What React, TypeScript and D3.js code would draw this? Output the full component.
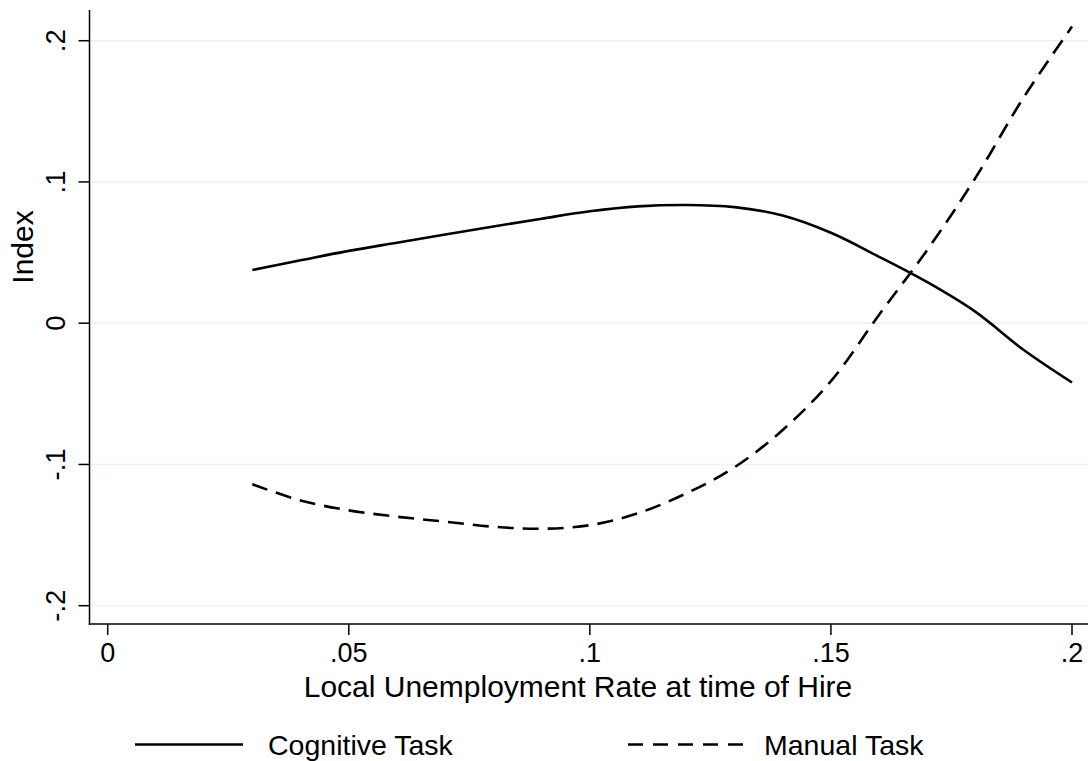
import React, { useRef, useEffect } from "react";
import * as d3 from "d3";

// unemployment rate grid (x) and the two fitted task indices
const rates = [0.03, 0.04, 0.05, 0.06, 0.07, 0.08, 0.09, 0.1, 0.11, 0.12, 0.13, 0.14, 0.15, 0.16, 0.17, 0.18, 0.19, 0.2];
const cognitive = [0.0377, 0.0445, 0.0512, 0.057, 0.0628, 0.0685, 0.074, 0.0792, 0.0827, 0.0837, 0.0822, 0.0762, 0.064, 0.047, 0.029, 0.008, -0.019, -0.042];
const manual = [-0.114, -0.1255, -0.1325, -0.137, -0.1405, -0.1441, -0.1455, -0.143, -0.1345, -0.1205, -0.102, -0.0756, -0.041, 0.006, 0.052, 0.103, 0.16, 0.21];

const xTicks = [0, 0.05, 0.1, 0.15, 0.2];
const xTickLabels = ["0", ".05", ".1", ".15", ".2"];
const yTicks = [-0.2, -0.1, 0, 0.1, 0.2];
const yTickLabels = ["-.2", "-.1", "0", ".1", ".2"];

const seriesNames = ["Cognitive Task", "Manual Task"];

const W = 1088;
const H = 761;
const FONT = "'Liberation Sans', Arial, Helvetica, sans-serif";

const App: React.FC = () => {
  const ref = useRef<SVGSVGElement>(null);

  useEffect(() => {
    if (!ref.current) return;
    const svg = d3.select(ref.current);
    svg.selectAll("*").remove();

    const axisX = 89.5; // y axis line position
    const axisY = 624; // x axis line position

    const x = d3.scaleLinear().domain([0, 0.2]).range([107.7, 1072]);
    const y = d3.scaleLinear().domain([-0.2, 0.2]).range([605.7, 40.7]);

    // gridlines
    svg
      .append("g")
      .selectAll("line")
      .data(yTicks)
      .enter()
      .append("line")
      .attr("x1", axisX)
      .attr("x2", W)
      .attr("y1", (d) => y(d))
      .attr("y2", (d) => y(d))
      .attr("stroke", "#eaf2f3")
      .attr("stroke-width", 1.6);

    // y axis
    svg
      .append("line")
      .attr("x1", axisX)
      .attr("x2", axisX)
      .attr("y1", 10)
      .attr("y2", axisY + 0.75)
      .attr("stroke", "#000")
      .attr("stroke-width", 1.5);

    const yg = svg.append("g");
    yg.selectAll("line")
      .data(yTicks)
      .enter()
      .append("line")
      .attr("x1", axisX - 11)
      .attr("x2", axisX)
      .attr("y1", (d) => y(d))
      .attr("y2", (d) => y(d))
      .attr("stroke", "#000")
      .attr("stroke-width", 1.5);
    yg.selectAll("text")
      .data(yTicks)
      .enter()
      .append("text")
      .attr("transform", (d) => `translate(65,${y(d)}) rotate(-90)`)
      .attr("text-anchor", "middle")
      .attr("font-family", FONT)
      .attr("font-size", 27.5)
      .text((d, i) => yTickLabels[i]);

    // x axis
    svg
      .append("line")
      .attr("x1", axisX - 0.75)
      .attr("x2", W)
      .attr("y1", axisY)
      .attr("y2", axisY)
      .attr("stroke", "#000")
      .attr("stroke-width", 1.5);

    const xg = svg.append("g");
    xg.selectAll("line")
      .data(xTicks)
      .enter()
      .append("line")
      .attr("x1", (d) => x(d))
      .attr("x2", (d) => x(d))
      .attr("y1", axisY)
      .attr("y2", axisY + 11)
      .attr("stroke", "#000")
      .attr("stroke-width", 1.5);
    xg.selectAll("text")
      .data(xTicks)
      .enter()
      .append("text")
      .attr("x", (d) => x(d))
      .attr("y", 662)
      .attr("text-anchor", "middle")
      .attr("font-family", FONT)
      .attr("font-size", 27)
      .text((d, i) => xTickLabels[i]);

    // axis titles
    svg
      .append("text")
      .attr("x", 578)
      .attr("y", 697)
      .attr("text-anchor", "middle")
      .attr("font-family", FONT)
      .attr("font-size", 30)
      .text("Local Unemployment Rate at time of Hire");

    svg
      .append("text")
      .attr("transform", "translate(33,247) rotate(-90)")
      .attr("text-anchor", "middle")
      .attr("font-family", FONT)
      .attr("font-size", 30)
      .text("Index");

    // lines
    const line = d3
      .line<number>()
      .x((d, i) => x(rates[i]))
      .y((d) => y(d))
      .curve(d3.curveCatmullRom.alpha(0.5));

    svg
      .append("path")
      .datum(cognitive)
      .attr("fill", "none")
      .attr("stroke", "#000")
      .attr("stroke-width", 2.6)
      .attr("d", line);

    svg
      .append("path")
      .datum(manual)
      .attr("fill", "none")
      .attr("stroke", "#000")
      .attr("stroke-width", 2.6)
      .attr("stroke-dasharray", "16,9")
      .attr("d", line);

    // legend
    const legend = svg.append("g");
    const items = [
      { name: seriesNames[0], x0: 135, x1: 243, tx: 268, dash: null },
      { name: seriesNames[1], x0: 628, x1: 743, tx: 764, dash: "15,10" },
    ];
    items.forEach((it) => {
      legend
        .append("line")
        .attr("x1", it.x0)
        .attr("x2", it.x1)
        .attr("y1", 744.5)
        .attr("y2", 744.5)
        .attr("stroke", "#000")
        .attr("stroke-width", 2.4)
        .attr("stroke-dasharray", it.dash);
      legend
        .append("text")
        .attr("x", it.tx)
        .attr("y", 755)
        .attr("font-family", FONT)
        .attr("font-size", 28.5)
        .text(it.name);
    });
  }, []);

  return (
    <svg
      ref={ref}
      width={W}
      height={H}
      style={{ position: "absolute", left: 0, top: 0, background: "#fff" }}
    />
  );
};

export default App;
